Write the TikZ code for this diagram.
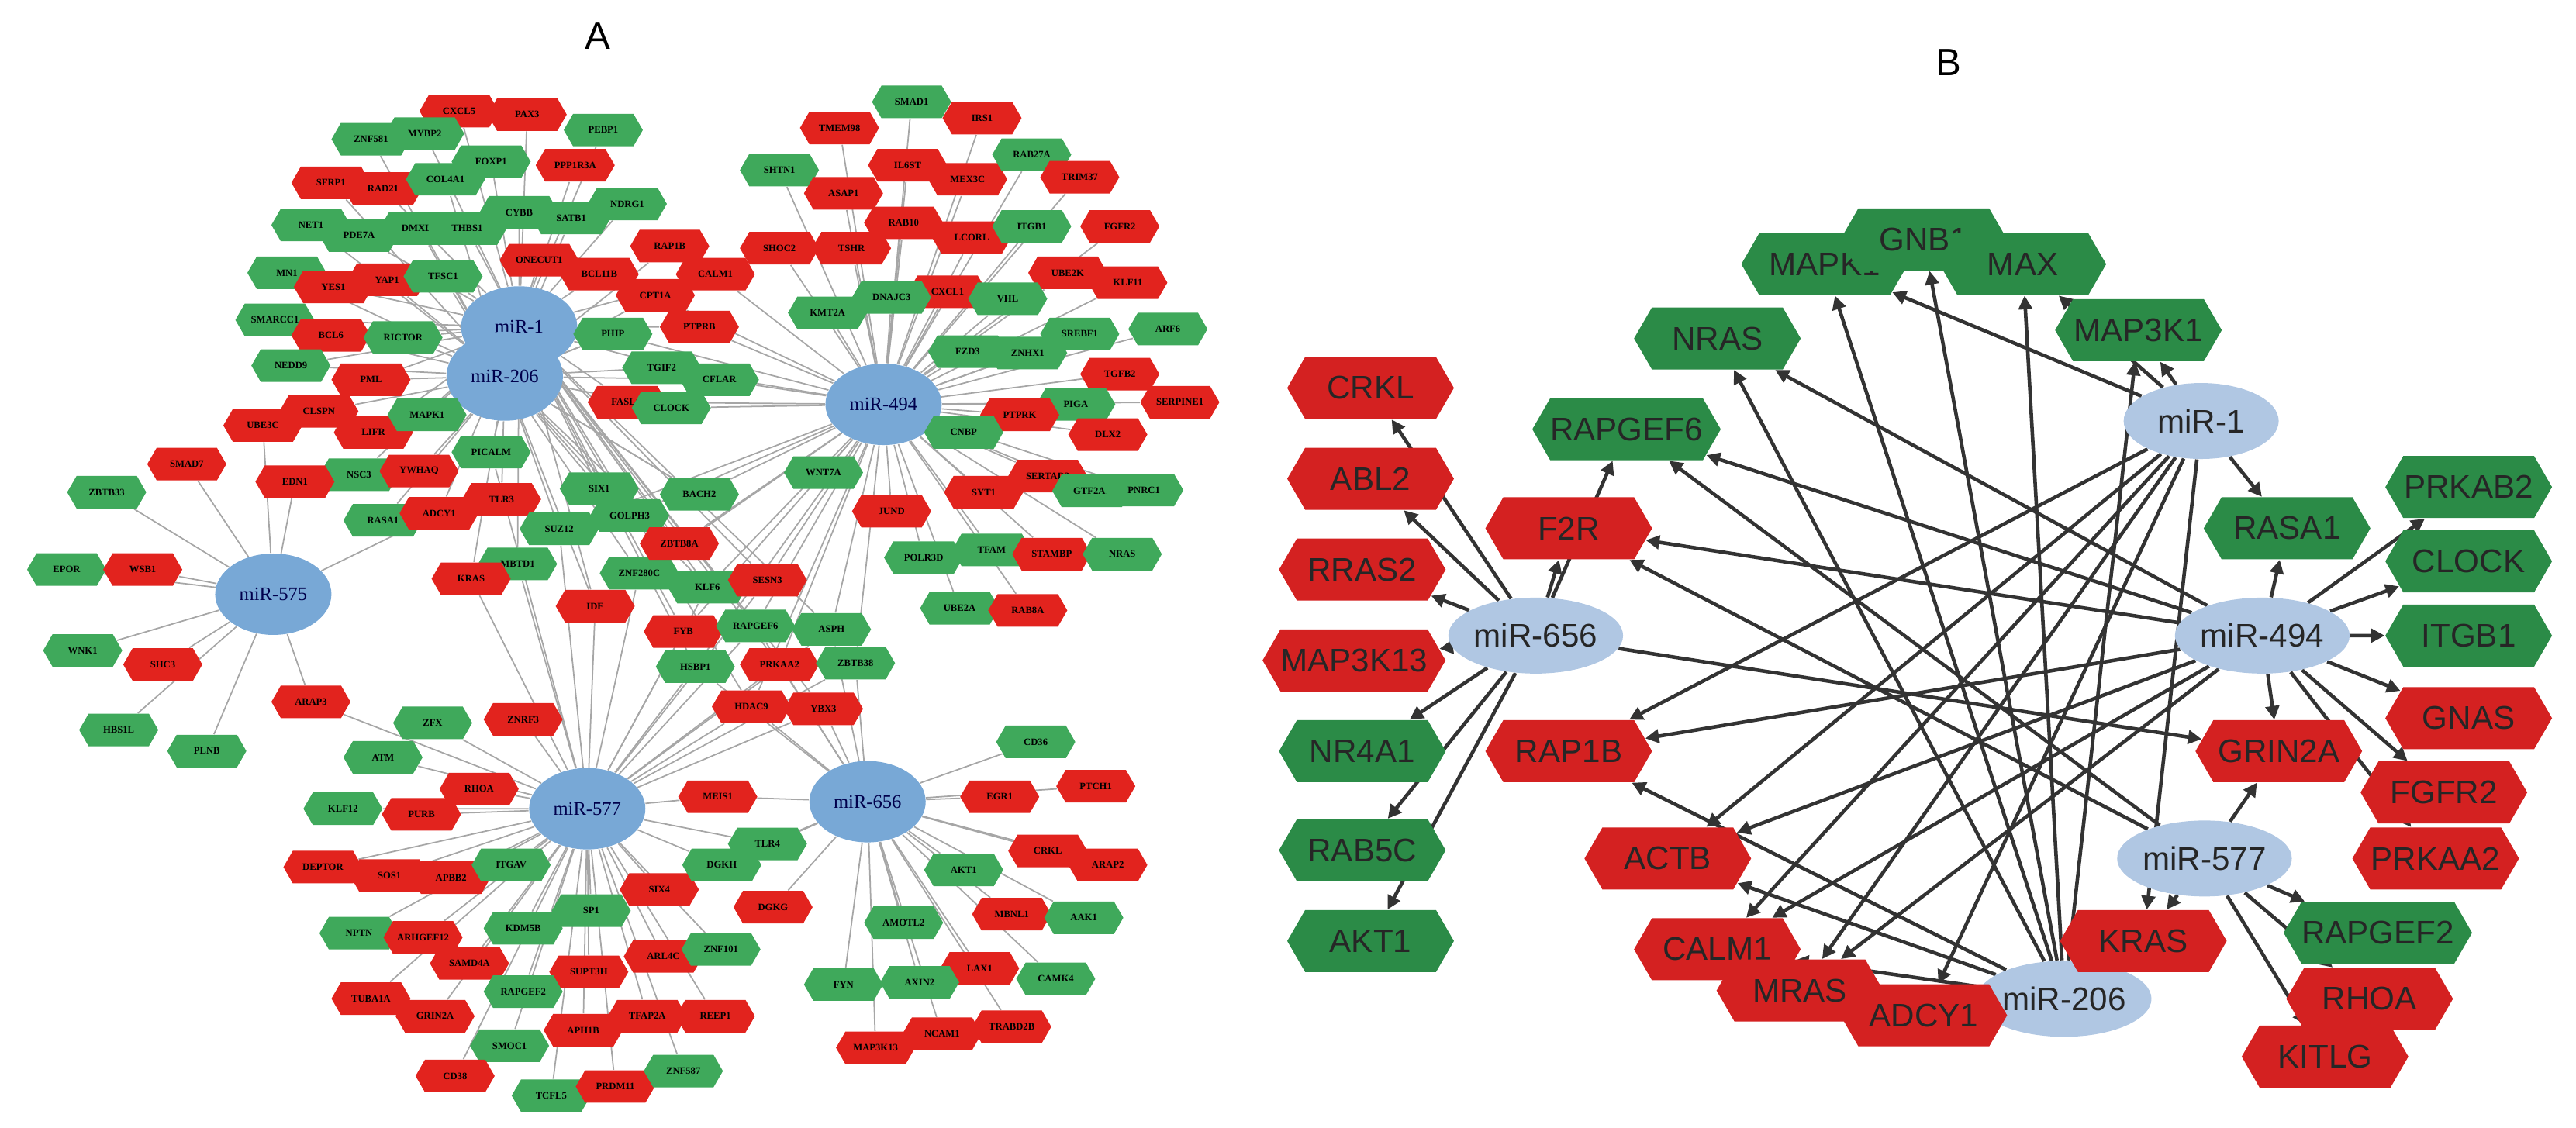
\documentclass[tikz,border=0pt]{standalone}
\usepackage{fontspec}
\setmainfont{Liberation Serif}
\newfontfamily\bsans{Liberation Sans}
\usetikzlibrary{shapes.symbols,shapes.geometric,arrows.meta}
\pgfdeclarelayer{bg}\pgfsetlayers{bg,main}
\definecolor{cr}{HTML}{E2231E}
\definecolor{cg}{HTML}{3FA95B}
\definecolor{br}{HTML}{D42121}
\definecolor{bgr}{HTML}{2B8B47}
\definecolor{hubA}{HTML}{78A8D6}
\definecolor{hubB}{HTML}{B0C7E3}
\tikzset{
 hexA/.style={signal, signal to=west and east, signal pointer angle=120, draw=none, minimum width=1.02cm, minimum height=0.42cm, inner sep=0pt, font=\fontsize{3.6}{4}\selectfont\bfseries},
 hubAs/.style={ellipse, fill=hubA, minimum width=1.5cm, minimum height=1.05cm, inner sep=0pt, font=\fontsize{7}{8}\selectfont, text=black!70!blue},
 eA/.style={draw=gray!70, line width=0.5pt},
 hexB/.style={signal, signal to=west and east, signal pointer angle=120, draw=none, minimum width=2.15cm, minimum height=0.8cm, inner sep=0pt, font=\bsans\fontsize{12}{13}\selectfont, text=black!85},
 hubBs/.style={ellipse, fill=hubB, minimum width=2.0cm, minimum height=0.98cm, inner sep=0pt, font=\bsans\fontsize{12}{13}\selectfont, text=black!85},
 eB/.style={draw=black!80, line width=1.3pt, -{Triangle[length=5pt,width=5pt]}},
 lbl/.style={font=\bsans\fontsize{14}{16}\selectfont}
}
\begin{document}
\begin{tikzpicture}[x=0.0213cm,y=-0.0213cm]
\useasboundingbox (0,0) rectangle (1560,683);
\node[lbl] (labA) at (362,22) {A};
\node[lbl] (labB) at (1180,38) {B};
% ---------------- Panel A ----------------
\begin{scope}[shift={(4,17)},xscale=0.485,yscale=0.426]
\node[hubAs] (m1) at (640,425) {miR-1};
\node[hubAs,minimum height=1.15cm] (m206) at (622,495) {miR-206};
\node[hubAs] (m494) at (1095,535) {miR-494};
\node[hubAs] (m575) at (333,805) {miR-575};
\node[hubAs] (m577) at (725,1110) {miR-577};
\node[hubAs] (m656) at (1075,1100) {miR-656};
\foreach \x/\y/\t/\c/\h in {
565/118/CXCL5/cr/m1, 650/123/PAX3/cr/m1, 455/158/ZNF581/cg/m206, 522/150/MYBP2/cg/m1, 745/145/PEBP1/cg/m1,
605/190/FOXP1/cg/m1, 710/195/PPP1R3A/cr/m1, 405/220/SFRP1/cr/m206, 470/228/RAD21/cr/m1, 548/215/COL4A1/cg/m206,
380/280/NET1/cg/m206, 440/295/PDE7A/cg/m1, 515/285/DMXL1/cg/m206, 575/285/THBS1/cg/m1, 640/262/CYBB/cg/m1,
705/270/SATB1/cg/m206, 775/250/NDRG1/cg/m1, 350/348/MN1/cg/m206, 408/368/YES1/cr/m1, 475/358/YAP1/cr/m206,
545/353/TFSC1/cg/m1, 665/330/ONECUT1/cr/m206, 740/350/BCL11B/cr/m1, 828/310/RAP1B/cr/m206, 885/350/CALM1/cr/m1,
810/380/CPT1A/cr/m206, 335/415/SMARCC1/cg/m1, 405/437/BCL6/cr/m206, 495/440/RICTOR/cg/m1, 757/435/PHIP/cg/m206,
865/425/PTPRB/cr/m1, 355/480/NEDD9/cg/m206, 455/500/PML/cr/m1, 818/483/TGIF2/cg/m206, 890/500/CFLAR/cg/m1,
390/545/CLSPN/cr/m206, 458/575/LIFR/cr/m1, 525/550/MAPK1/cg/m206, 775/532/FASLG/cr/m1, 830/540/CLOCK/cg/m206,
440/635/NSC3/cg/m1, 515/630/YWHAQ/cr/m206, 605/603/PICALM/cg/m1, 470/700/RASA1/cg/m206, 540/690/ADCY1/cr/m1,
618/670/TLR3/cr/m206, 740/655/SIX1/cg/m1, 865/663/BACH2/cg/m206, 778/693/GOLPH3/cg/m1, 690/712/SUZ12/cg/m206,
638/762/MBTD1/cg/m1, 580/783/KRAS/cr/m206, 790/775/ZNF280C/cg/m206, 840/733/ZBTB8A/cr/m1, 875/795/KLF6/cg/m206,
950/785/SESN3/cr/m494, 735/822/IDE/cr/m206, 845/858/FYB/cr/m494, 935/850/RAPGEF6/cg/m577, 1030/855/ASPH/cg/m577,
860/908/HSBP1/cg/m494, 965/905/PRKAA2/cr/m577, 1060/903/ZBTB38/cg/m577, 930/965/HDAC9/cr/m494, 1020/968/YBX3/cr/m577,
360/645/EDN1/cr/m575, 320/565/UBE3C/cr/m575, 225/620/SMAD7/cr/m575, 125/660/ZBTB33/cg/m575, 75/770/EPOR/cg/m575,
170/770/WSB1/cr/m575, 95/885/WNK1/cg/m575, 195/905/SHC3/cr/m575, 140/998/HBS1L/cg/m575, 250/1028/PLNB/cg/m575,
380/958/ARAP3/cr/m575,
1130/105/SMAD1/cg/m494, 1218/128/IRS1/cr/m494, 1040/142/TMEM98/cr/m494, 965/202/SHTN1/cg/m494, 1125/195/IL6ST/cr/m494,
1200/215/MEX3C/cr/m494, 1280/180/RAB27A/cg/m494, 1340/212/TRIM37/cr/m494, 1045/235/ASAP1/cr/m494, 1120/277/RAB10/cr/m494,
1205/298/LCORL/cr/m494, 1280/282/ITGB1/cg/m494, 1390/282/FGFR2/cr/m494, 965/313/SHOC2/cr/m494, 1055/313/TSHR/cr/m494,
1325/348/UBE2K/cr/m494, 1400/362/KLF11/cr/m494, 1175/375/CXCL1/cr/m494, 1250/385/VHL/cg/m494, 1105/383/DNAJC3/cg/m494,
1025/405/KMT2A/cg/m494, 1200/460/FZD3/cg/m494, 1275/462/ZNHX1/cg/m494, 1340/435/SREBF1/cg/m494, 1450/428/ARF6/cg/m494,
1390/492/TGFB2/cr/m494, 1465/532/SERPINE1/cr/m494, 1335/535/PIGA/cg/m494, 1265/550/PTPRK/cr/m494, 1195/575/CNBP/cg/m494,
1375/578/DLX2/cr/m494, 1020/632/WNT7A/cg/m494, 1300/637/SERTAD2/cr/m494, 1220/660/SYT1/cr/m494, 1355/658/GTF2A1/cg/m494,
1420/657/PNRC1/cg/m494, 1105/687/JUND/cr/m494, 1145/753/POLR3D/cg/m494, 1230/742/TFAM/cg/m494, 1305/748/STAMBP/cr/m494,
1393/748/NRAS/cg/m494, 1190/825/UBE2A/cg/m494, 1275/828/RAB8A/cr/m494,
532/988/ZFX/cg/m577, 645/983/ZNRF3/cr/m577, 470/1037/ATM/cg/m577, 590/1082/RHOA/cr/m577, 420/1110/KLF12/cg/m577,
518/1118/PURB/cr/m577, 395/1193/DEPTOR/cr/m577, 478/1205/SOS1/cr/m577, 555/1208/APBB2/cr/m577, 630/1190/ITGAV/cg/m577,
730/1255/SP1/cg/m577, 645/1280/KDM5B/cg/m577, 815/1225/SIX4/cr/m577, 820/1320/ARL4C/cr/m577, 892/1310/ZNF101/cg/m577,
893/1190/DGKH/cg/m577, 950/1160/TLR4/cg/m577, 888/1093/MEIS1/cr/m577, 957/1250/DGKG/cr/m656,
440/1287/NPTN/cg/m577, 520/1293/ARHGEF12/cr/m577, 578/1330/SAMD4A/cr/m577, 727/1342/SUPT3H/cr/m577, 645/1370/RAPGEF2/cg/m577,
455/1380/TUBA1A/cr/m577, 535/1405/GRIN2A/cr/m577, 720/1425/APH1B/cr/m577, 800/1405/TFAP2A/cr/m577, 885/1405/REEP1/cr/m577,
628/1447/SMOC1/cg/m577, 560/1490/CD38/cr/m577, 680/1518/TCFL5/cg/m577, 760/1505/PRDM11/cr/m577, 845/1483/ZNF587/cg/m577,
1285/1015/CD36/cg/m656, 1240/1093/EGR1/cr/m656, 1360/1078/PTCH1/cr/m656, 1300/1170/CRKL/cr/m656, 1375/1190/ARAP2/cr/m656,
1195/1197/AKT1/cg/m656, 1255/1260/MBNL1/cr/m656, 1345/1265/AAK1/cg/m656, 1120/1272/AMOTL2/cg/m656, 1310/1352/CAMK4/cg/m656,
1215/1337/LAX1/cr/m656, 1045/1360/FYN/cg/m656, 1140/1357/AXIN2/cg/m656, 1085/1450/MAP3K13/cr/m656, 1168/1430/NCAM1/cr/m656,
1255/1420/TRABD2B/cr/m656}
{
 \node[hexA,fill=\c] (A-\t) at (\x,\y) {\t};
 \begin{pgfonlayer}{bg}\draw[eA] (A-\t) -- (\h);\end{pgfonlayer}
}
\begin{pgfonlayer}{bg}
\foreach \a/\b in {m575/A-ADCY1, m577/A-ARAP3, m577/A-KRAS, m577/A-MBTD1, m577/A-IDE, m577/A-FYB, m577/A-HSBP1,
 m577/A-HDAC9, m577/A-SESN3, m577/A-KLF6, m577/A-ZNF280C, m656/A-HDAC9, m656/A-YBX3, m656/A-ASPH, m656/A-ZBTB38,
 m656/A-PRKAA2, m656/A-RAPGEF6, m656/A-TLR4, m656/A-DGKH, m656/A-MEIS1, m656/A-HSBP1, m494/A-ZNF280C, m494/A-KLF6,
 m494/A-ZBTB8A, m494/A-BACH2, m494/A-RAPGEF6, m494/A-ASPH, m494/A-CFLAR, m494/A-CLOCK, m494/A-TGIF2, m494/A-PTPRB,
 m494/A-CALM1, m494/A-FASLG, m494/A-PHIP, m494/A-GOLPH3, m494/A-ZBTB38, m494/A-PRKAA2, m494/A-CPT1A, m494/A-SUZ12,
 m1/A-KLF6, m1/A-SESN3, m1/A-IDE, m1/A-FYB, m1/A-RAPGEF6, m1/A-HSBP1, m1/A-PRKAA2, m1/A-HDAC9, m1/A-YBX3,
 m1/A-ASPH, m206/A-ZBTB8A, m206/A-SIX1, m206/A-BACH2, m206/A-GOLPH3, m206/A-CFLAR, m577/A-SUZ12, m577/A-PICALM,
 m206/A-PHIP, m1/A-MAPK1, m206/A-PML, m1/A-NEDD9, m206/A-RICTOR, m1/A-BCL6, m206/A-TFSC1, m1/A-ONECUT1}
 {\draw[eA] (\a) -- (\b);}
\end{pgfonlayer}
\end{scope}
% ---------------- Panel B ----------------
\node[hubBs] (B1) at (1333,255) {miR-1};
\node[hubBs] (B494) at (1370,385) {miR-494};
\node[hubBs] (B656) at (930,385) {miR-656};
\node[hubBs] (B577) at (1335,520) {miR-577};
\node[hubBs] (B206) at (1250,605) {miR-206};
\foreach \x/\y/\t/\c in {
830/235/CRKL/br, 830/290/ABL2/br, 825/345/RRAS2/br, 820/400/MAP3K13/br, 825/455/NR4A1/bgr, 825/515/RAB5C/bgr, 830/570/AKT1/bgr,
985/260/RAPGEF6/bgr, 950/320/F2R/br, 950/455/RAP1B/br, 1010/520/ACTB/br, 1040/575/CALM1/br, 1090/600/MRAS/br, 1165/615/ADCY1/br, 1298/570/KRAS/br,
1040/205/NRAS/bgr, 1105/160/MAPK1/bgr, 1165/145/GNB1/bgr, 1225/160/MAX/bgr, 1295/200/MAP3K1/bgr,
1385/320/RASA1/bgr, 1495/295/PRKAB2/bgr, 1495/340/CLOCK/bgr, 1495/385/ITGB1/bgr, 1495/435/GNAS/br, 1380/455/GRIN2A/br,
1480/480/FGFR2/br, 1475/520/PRKAA2/br, 1440/565/RAPGEF2/bgr, 1435/605/RHOA/br, 1408/640/KITLG/br}
{ \node[hexB,fill=\c] (B-\t) at (\x,\y) {\t}; }
\begin{pgfonlayer}{bg}
\foreach \a/\b in {B656/CRKL, B656/ABL2, B656/RRAS2, B656/MAP3K13, B656/NR4A1, B656/RAB5C, B656/AKT1, B656/F2R, B656/RAPGEF6, B656/GRIN2A,
 B1/MAPK1, B1/MAP3K1, B1/MAX, B1/RASA1, B1/RAP1B, B1/ACTB, B1/CALM1, B1/MRAS, B1/ADCY1, B1/KRAS,
 B494/PRKAB2, B494/CLOCK, B494/ITGB1, B494/GNAS, B494/FGFR2, B494/PRKAA2, B494/GRIN2A, B494/RASA1, B494/RAPGEF6, B494/F2R, B494/NRAS, B494/RAP1B, B494/ACTB, B494/CALM1, B494/MRAS,
 B577/GRIN2A, B577/KRAS, B577/RAPGEF2, B577/RHOA, B577/KITLG, B577/F2R, B577/RAPGEF6,
 B206/ACTB, B206/RAP1B, B206/CALM1, B206/ADCY1, B206/GNB1, B206/MAPK1, B206/MAX, B206/MAP3K1, B206/NRAS}
 {\draw[eB] (\a) -- (B-\b);}
\end{pgfonlayer}
\end{tikzpicture}
\end{document}
